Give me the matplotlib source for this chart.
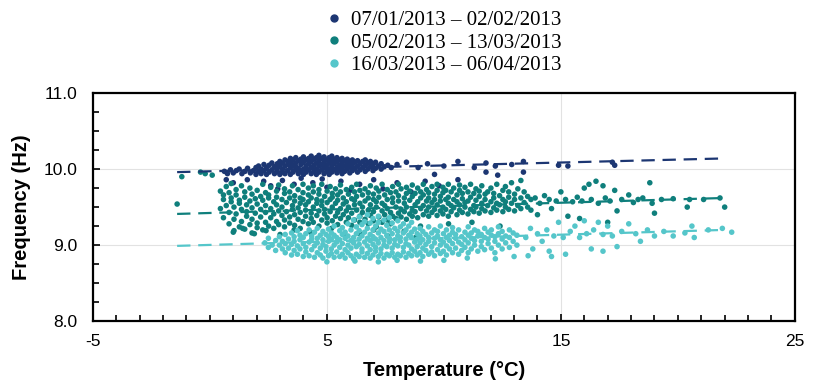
import matplotlib
matplotlib.use('Agg')
import numpy as np
from matplotlib import pyplot as plt
from matplotlib.lines import Line2D
from matplotlib.ticker import MultipleLocator, FormatStrFormatter

plt.rcParams['axes.unicode_minus'] = False

# legend labels
labels = ['07/01/2013 \u2013 02/02/2013', '05/02/2013 \u2013 13/03/2013', '16/03/2013 \u2013 06/04/2013']
colors = ['#1c3672', '#0f7f7c', '#55c6ca']
x_ticks = [-5, 5, 15, 25]

# ---- periodo 1 (navy) : (temperatura, [frequenze])
navy_cols = [
    (0.62, [9.97]), (0.75, [9.94]), (0.88, [9.99]), (1.0, [9.95]), (1.13, [9.98]), (1.25, [10.0]),
    (1.37, [9.94]), (1.5, [9.97]), (1.61, [10.01]), (1.73, [9.95]), (1.86, [9.98]),
    (1.97, [9.93, 10.02]), (2.08, [9.97, 10.04]), (2.19, [9.94, 10.0]), (2.31, [9.98, 10.06]),
    (2.42, [9.93, 10.02]), (2.53, [9.96, 10.05]), (2.65, [9.99, 10.08]), (2.76, [9.94, 10.03]),
    (2.88, [9.97, 10.01, 10.07]), (2.99, [9.93, 10.05, 10.10]), (3.1, [9.96, 10.0, 10.08]),
    (3.21, [9.94, 10.04, 10.12]), (3.33, [9.98, 10.06, 10.10]), (3.44, [9.93, 10.02, 10.09, 10.14]),
    (3.55, [9.96, 10.05, 10.12]), (3.67, [9.99, 10.03, 10.08, 10.15]), (3.78, [9.94, 10.01, 10.11]),
    (3.89, [9.97, 10.06, 10.13]), (4.0, [9.93, 10.0, 10.09, 10.16]), (4.11, [9.96, 10.04, 10.12]),
    (4.22, [9.99, 10.07, 10.14]), (4.33, [9.94, 10.02, 10.10, 10.17]), (4.44, [9.97, 10.05, 10.13]),
    (4.55, [9.93, 10.0, 10.08, 10.15]), (4.66, [9.96, 10.04, 10.11, 10.18]),
    (4.77, [9.99, 10.06, 10.14]), (4.88, [9.94, 10.02, 10.09, 10.16]), (4.99, [9.97, 10.05, 10.12]),
    (5.1, [9.93, 10.0, 10.08, 10.15]), (5.21, [9.96, 10.04, 10.11, 10.17]),
    (5.32, [9.99, 10.07, 10.13]), (5.43, [9.95, 10.02, 10.10, 10.15]), (5.54, [9.98, 10.05, 10.12]),
    (5.65, [9.94, 10.01, 10.08, 10.14]), (5.76, [9.97, 10.04, 10.11]), (5.87, [10.0, 10.07, 10.13]),
    (5.98, [9.95, 10.03, 10.10]), (6.09, [9.98, 10.06, 10.12]), (6.2, [10.01, 10.09]),
    (6.31, [9.96, 10.04, 10.11]), (6.42, [9.99, 10.07]), (6.53, [10.02, 10.10]),
    (6.64, [9.97, 10.05, 10.12]), (6.75, [10.0, 10.08]), (6.86, [10.03, 10.10]),
    (6.97, [9.98, 10.06]), (7.08, [10.01, 10.09]), (7.2, [10.04]), (7.32, [10.0, 10.07]),
    (7.45, [10.03]), (7.6, [10.05]), (7.75, [10.02]),
]
navy_sparse = [
    (0.7, 9.86), (1.0, 9.82), (1.6, 9.86), (2.3, 9.84), (2.6, 9.78), (2.9, 9.74), (3.1, 9.85),
    (3.6, 9.80), (3.9, 9.88), (4.4, 9.82), (4.8, 9.87), (5.0, 9.76), (5.6, 9.84), (6.0, 9.72),
    (6.4, 9.80), (7.0, 9.86), (7.4, 9.74), (8.0, 9.82), (8.6, 9.70), (9.2, 9.84), (9.8, 9.78),
    (10.6, 9.86), (8.0, 10.06), (8.4, 10.09), (8.9, 10.02), (9.3, 10.07), (9.6, 9.93),
    (10.0, 10.04), (10.6, 10.10), (11.3, 10.02), (11.8, 10.08), (11.8, 9.96), (12.2, 10.04),
    (12.3, 9.92), (12.9, 10.06), (13.4, 9.96), (13.4, 10.10), (14.9, 10.05), (15.3, 10.04),
    (17.2, 10.09), (17.3, 10.05),
]

# ---- periodo 2 (teal)
teal_cols = [
    (0.45, [9.48, 9.71]), (0.58, [9.36, 9.60, 9.66]), (0.70, [9.52, 9.77]), (0.82, [9.28, 9.43, 9.69]),
    (0.91, [9.57, 9.62, 9.81]), (1.03, [9.19, 9.34, 9.50]), (1.12, [9.41, 9.66, 9.73]),
    (1.26, [9.24, 9.55, 9.59]), (1.35, [9.31, 9.47, 9.78]), (1.49, [9.21, 9.63, 9.70]),
    (1.57, [9.38, 9.44, 9.53]), (1.71, [9.27, 9.58, 9.75]), (1.80, [9.16, 9.34, 9.49, 9.67]),
    (1.94, [9.42, 9.61]), (2.02, [9.23, 9.29, 9.54, 9.72]), (2.17, [9.37, 9.47, 9.64]),
    (2.26, [9.20, 9.59, 9.80]), (2.38, [9.30, 9.43, 9.52, 9.69]), (2.51, [9.25, 9.62, 9.66]),
    (2.60, [9.36, 9.48, 9.76]), (2.73, [9.22, 9.41, 9.57]), (2.85, [9.31, 9.53, 9.63, 9.71]),
    (2.94, [9.27, 9.45, 9.79]), (3.08, [9.39, 9.50, 9.60]), (3.19, [9.24, 9.33, 9.68, 9.74]),
    (3.27, [9.44, 9.56]), (3.41, [9.29, 9.37, 9.62, 9.70]), (3.53, [9.47, 9.52, 9.78]),
    (3.62, [9.26, 9.40, 9.58, 9.65]), (3.77, [9.34, 9.49, 9.73]), (3.86, [9.22, 9.43, 9.55, 9.62]),
    (3.98, [9.31, 9.60, 9.69, 9.80]), (4.09, [9.38, 9.46, 9.53]), (4.21, [9.28, 9.57, 9.66, 9.75]),
    (4.33, [9.35, 9.42, 9.62]), (4.42, [9.30, 9.50, 9.70, 9.78]), (4.57, [9.39, 9.55, 9.60]),
    (4.66, [9.25, 9.45, 9.67, 9.73]), (4.78, [9.33, 9.52, 9.58, 9.80]), (4.90, [9.41, 9.47, 9.64]),
    (5.01, [9.29, 9.36, 9.56, 9.71]), (5.14, [9.44, 9.60, 9.77]), (5.23, [9.32, 9.50, 9.63, 9.68]),
    (5.37, [9.38, 9.55, 9.74]), (5.46, [9.27, 9.43, 9.59, 9.66]), (5.58, [9.35, 9.48, 9.70, 9.79]),
    (5.70, [9.40, 9.54, 9.62]), (5.83, [9.30, 9.45, 9.57, 9.73]), (5.92, [9.36, 9.50, 9.67]),
    (6.06, [9.26, 9.42, 9.61, 9.76]), (6.18, [9.33, 9.53, 9.59, 9.70]), (6.27, [9.46, 9.64, 9.80]),
    (6.41, [9.30, 9.38, 9.55, 9.72]), (6.52, [9.43, 9.50, 9.66]), (6.63, [9.34, 9.58, 9.74]),
    (6.77, [9.28, 9.46, 9.62, 9.69]), (6.86, [9.39, 9.53, 9.78]), (6.99, [9.32, 9.44, 9.60, 9.67]),
    (7.11, [9.24, 9.50, 9.57, 9.75]), (7.22, [9.37, 9.63, 9.71]), (7.36, [9.30, 9.45, 9.55, 9.80]),
    (7.47, [9.40, 9.52, 9.66]), (7.58, [9.33, 9.48, 9.60, 9.73]), (7.72, [9.28, 9.43, 9.69]),
    (7.81, [9.38, 9.56, 9.62, 9.77]), (7.95, [9.35, 9.50, 9.70]), (8.06, [9.42, 9.58, 9.65, 9.80]),
    (8.17, [9.37, 9.47, 9.74]), (8.31, [9.44, 9.55, 9.62]), (8.40, [9.34, 9.50, 9.68, 9.76]),
    (8.54, [9.41, 9.59, 9.71]), (8.65, [9.38, 9.46, 9.64, 9.79]), (8.77, [9.44, 9.53, 9.68]),
    (8.88, [9.36, 9.57, 9.75]), (9.01, [9.48, 9.62, 9.70]), (9.12, [9.40, 9.52, 9.66, 9.80]),
    (9.26, [9.45, 9.58, 9.73]), (9.35, [9.38, 9.50, 9.62, 9.69]), (9.49, [9.43, 9.56, 9.77]),
    (9.60, [9.47, 9.60, 9.67]), (9.71, [9.39, 9.53, 9.72, 9.80]), (9.85, [9.45, 9.58, 9.64]),
    (9.96, [9.41, 9.50, 9.69, 9.76]), (10.08, [9.47, 9.60, 9.72]), (10.19, [9.38, 9.55, 9.63, 9.80]),
    (10.31, [9.44, 9.52, 9.70]), (10.42, [9.49, 9.60, 9.75]), (10.56, [9.40, 9.57, 9.66]),
    (10.67, [9.46, 9.53, 9.72, 9.79]), (10.79, [9.43, 9.61, 9.68]), (10.90, [9.50, 9.56, 9.76]),
    (11.03, [9.41, 9.58, 9.70]), (11.14, [9.47, 9.63, 9.80]), (11.28, [9.44, 9.52, 9.68]),
    (11.37, [9.50, 9.59, 9.74]), (11.51, [9.42, 9.64, 9.71]), (11.62, [9.48, 9.55, 9.78]),
    (11.76, [9.45, 9.60, 9.67]), (11.87, [9.52, 9.70]), (12.01, [9.43, 9.57, 9.75]),
    (12.13, [9.49, 9.62, 9.68]), (12.26, [9.46, 9.55, 9.80]), (12.38, [9.53, 9.65]),
    (12.52, [9.44, 9.60, 9.72]), (12.63, [9.50, 9.57, 9.77]), (12.77, [9.47, 9.63, 9.70]),
    (12.89, [9.55, 9.82]), (13.02, [9.45, 9.60, 9.67]), (13.16, [9.52, 9.74]),
    (13.29, [9.48, 9.62, 9.85]), (13.43, [9.56, 9.70]), (13.58, [9.50, 9.64]), (13.72, [9.46, 9.60]),
]
teal_sparse = [
    (-1.4, 9.54), (-1.2, 9.90), (-0.4, 9.96), (-0.2, 9.94), (0.1, 9.92),
    (1.0, 9.17), (1.4, 9.22), (1.9, 9.15), (2.4, 9.19), (3.0, 9.14), (3.6, 9.20), (4.3, 9.17),
    (5.2, 9.22), (5.8, 9.12), (6.4, 9.15), (7.0, 9.20), (7.6, 9.12), (8.3, 9.18), (8.8, 9.10),
    (9.0, 9.25), (10.2, 9.28), (11.2, 9.30), (12.4, 9.25),
    (13.9, 9.62), (14.0, 9.40), (14.1, 9.55), (14.3, 9.65), (14.5, 9.60), (14.6, 9.48),
    (14.8, 9.58), (15.0, 9.70), (15.2, 9.60), (15.3, 9.38), (15.5, 9.57), (15.7, 9.63),
    (15.8, 9.35), (15.9, 9.58), (16.0, 9.75), (16.2, 9.80), (16.3, 9.60), (16.5, 9.84),
    (16.6, 9.55), (16.8, 9.78), (16.9, 9.62), (17.0, 9.30), (17.1, 9.58), (17.3, 9.72),
    (17.4, 9.45), (17.6, 9.60), (17.9, 9.66), (18.1, 9.56), (18.3, 9.60), (18.5, 9.62),
    (18.8, 9.82), (18.9, 9.55), (19.0, 9.42), (19.3, 9.60), (19.8, 9.61), (20.4, 9.50),
    (20.5, 9.60), (21.1, 9.60), (21.8, 9.62), (22.0, 9.50),
]

# ---- periodo 3 (cyan)
cyan_cols = [
    (2.35, [9.03]), (2.5, [8.97, 9.09]), (2.66, [9.0]), (2.81, [8.93, 9.06]), (2.97, [9.0, 9.11]),
    (3.1, [8.95, 9.05]), (3.22, [8.90, 9.02, 9.14]), (3.36, [8.96, 9.08]), (3.49, [8.87, 9.01, 9.16]),
    (3.6, [8.93, 9.05, 9.11]), (3.74, [8.88, 8.99, 9.19]), (3.85, [8.95, 9.07, 9.13]),
    (3.99, [8.85, 9.02, 9.10]), (4.1, [8.91, 8.97, 9.15]), (4.24, [8.86, 9.04, 9.20]),
    (4.35, [8.94, 9.08, 9.12]), (4.47, [8.84, 8.99, 9.17]), (4.59, [8.90, 9.03, 9.09, 9.22]),
    (4.72, [8.87, 8.96, 9.13]), (4.83, [8.83, 9.01, 9.07, 9.18]), (4.96, [8.92, 8.98, 9.14]),
    (5.07, [8.86, 9.05, 9.11, 9.21]), (5.19, [8.89, 8.95, 9.08, 9.16]), (5.31, [8.84, 9.0, 9.13, 9.25]),
    (5.42, [8.91, 9.04, 9.10]), (5.55, [8.85, 8.97, 9.07, 9.19]), (5.66, [8.88, 9.02, 9.14, 9.23]),
    (5.78, [8.83, 8.94, 9.09, 9.17]), (5.9, [8.90, 9.0, 9.12, 9.28]), (6.03, [8.86, 8.96, 9.06, 9.20]),
    (6.14, [8.82, 9.03, 9.10, 9.33]), (6.26, [8.88, 8.98, 9.15, 9.24]),
    (6.38, [8.85, 9.01, 9.08, 9.19, 9.37]), (6.5, [8.91, 8.95, 9.12, 9.27]),
    (6.61, [8.84, 9.04, 9.17, 9.31]), (6.73, [8.89, 8.99, 9.09, 9.22, 9.40]),
    (6.85, [8.83, 8.94, 9.06, 9.14, 9.29]), (6.97, [8.87, 9.01, 9.11, 9.20, 9.35]),
    (7.08, [8.92, 8.97, 9.08, 9.25]), (7.2, [8.85, 9.03, 9.16, 9.30, 9.38]),
    (7.31, [8.89, 8.95, 9.10, 9.21]), (7.44, [8.83, 9.0, 9.06, 9.18, 9.33]),
    (7.56, [8.88, 8.98, 9.13, 9.26]), (7.67, [8.86, 9.04, 9.09, 9.20, 9.36]),
    (7.79, [8.90, 8.96, 9.15, 9.29]), (7.9, [8.84, 9.01, 9.07, 9.22]),
    (8.03, [8.88, 8.99, 9.12, 9.18, 9.32]), (8.14, [8.86, 9.05, 9.10, 9.24]),
    (8.27, [8.91, 8.97, 9.16, 9.28]), (8.38, [8.84, 9.02, 9.08, 9.20]), (8.5, [8.89, 9.0, 9.13, 9.25]),
    (8.62, [8.86, 8.95, 9.10, 9.17, 9.30]), (8.75, [8.92, 9.04, 9.21]), (8.86, [8.87, 8.98, 9.08, 9.15]),
    (8.98, [8.90, 9.03, 9.12, 9.22]), (9.1, [8.85, 8.96, 9.07, 9.18]), (9.23, [8.93, 9.01, 9.14]),
    (9.35, [8.88, 9.05, 9.10, 9.24]), (9.48, [8.91, 8.98, 9.16]), (9.6, [8.86, 9.03, 9.09, 9.20]),
    (9.73, [8.94, 9.12, 9.18]), (9.85, [8.89, 9.0, 9.07, 9.25]), (9.98, [8.92, 9.04, 9.15]),
    (10.11, [8.87, 8.99, 9.10, 9.20]), (10.24, [8.95, 9.06, 9.13]), (10.37, [8.90, 9.02, 9.17, 9.23]),
    (10.5, [8.96, 9.09, 9.14]), (10.63, [8.88, 9.04, 9.20]), (10.76, [8.93, 9.01, 9.11]),
    (10.9, [8.97, 9.07, 9.17]), (11.04, [8.90, 9.03, 9.13, 9.24]), (11.17, [8.95, 9.09, 9.16]),
    (11.31, [9.0, 9.06, 9.20]), (11.45, [8.92, 9.12, 9.18]), (11.6, [8.98, 9.05, 9.14]),
    (11.74, [8.94, 9.10, 9.22]), (11.89, [9.02, 9.08, 9.17]), (12.03, [8.96, 9.13, 9.20]),
    (12.18, [8.90, 9.05, 9.11]), (12.33, [9.0, 9.15, 9.24]), (12.49, [8.95, 9.08, 9.18]),
    (12.64, [9.03, 9.12]), (12.8, [8.97, 9.10, 9.20]), (12.96, [9.05, 9.16]), (13.12, [9.0, 9.13]),
]
cyan_sparse = [
    (5.0, 8.78), (6.2, 8.79), (7.2, 8.78), (8.0, 8.80), (9.0, 8.79), (10.0, 8.80),
    (11.0, 8.83), (12.2, 8.82), (13.0, 8.85),
    (13.5, 9.10), (13.6, 8.86), (13.7, 9.22), (13.8, 8.95), (14.0, 9.15), (14.2, 9.05),
    (14.4, 9.20), (14.5, 8.92), (14.6, 8.85), (14.7, 9.12), (14.9, 9.30), (15.1, 9.10),
    (15.2, 8.88), (15.4, 9.18), (15.6, 9.25), (15.8, 9.10), (16.0, 9.32), (16.1, 9.15),
    (16.3, 8.95), (16.4, 9.20), (16.6, 9.30), (16.8, 9.14), (16.8, 8.92), (17.0, 9.25),
    (17.2, 9.12), (17.4, 8.98), (17.6, 9.18), (17.9, 9.28), (18.2, 9.15), (18.4, 9.05),
    (18.7, 9.20), (19.0, 9.12), (19.4, 9.18), (19.8, 9.12), (20.3, 9.16), (20.6, 9.25),
    (20.7, 9.10), (21.3, 9.20), (21.9, 9.22), (22.3, 9.17),
]

# rette di tendenza (estremi)
trend_x = [-1.4, 22.0]
trend_navy = [9.96, 10.14]
trend_teal = [9.41, 9.62]
trend_cyan = [8.99, 9.20]


def expand(cols, sparse):
    xs, ys = [], []
    for x, yl in cols:
        for y in yl:
            xs.append(x)
            ys.append(y)
    for x, y in sparse:
        xs.append(x)
        ys.append(y)
    return xs, ys


series = [expand(navy_cols, navy_sparse), expand(teal_cols, teal_sparse), expand(cyan_cols, cyan_sparse)]
trends = [trend_navy, trend_teal, trend_cyan]

fig = plt.figure(figsize=(8.22, 3.86), dpi=100)
ax = fig.add_axes([0.113, 0.168, 0.854, 0.591])

for (xs, ys), c in zip(series, colors):
    ax.scatter(xs, ys, s=16, color=c, edgecolors='none', zorder=3)

for ty, c in zip(trends, colors):
    ax.plot(trend_x, ty, color=c, lw=1.6, dashes=(6, 3.5), zorder=4)

ax.set_xlim(-5, 25)
ax.set_ylim(8.0, 11.0)
ax.set_xticks(x_ticks)
ax.xaxis.set_minor_locator(MultipleLocator(1))
ax.yaxis.set_major_locator(MultipleLocator(1))
ax.yaxis.set_minor_locator(MultipleLocator(0.25))
ax.yaxis.set_major_formatter(FormatStrFormatter('%.1f'))
ax.tick_params(which='both', direction='in', width=1.2)
ax.tick_params(which='major', length=5, labelsize=12.5)
ax.tick_params(axis='x', which='major', pad=9)
ax.tick_params(axis='y', which='major', pad=11)
ax.tick_params(which='minor', length=4)
ax.grid(True, which='major', color='#e2e2e2', lw=0.8, zorder=0)
for sp in ax.spines.values():
    sp.set_linewidth(1.6)

ax.set_xlabel('Temperature (\u00b0C)', fontsize=14.5, fontweight='bold', family='Liberation Sans', labelpad=9)
ax.set_ylabel('Frequency (Hz)', fontsize=14.5, fontweight='bold', family='Liberation Sans', labelpad=9)
for lab in ax.get_xticklabels() + ax.get_yticklabels():
    lab.set_family('Liberation Sans')

handles = [Line2D([], [], ls='none', marker='o', ms=5, color=c) for c in colors]
fig.legend(handles, labels, loc='upper center', bbox_to_anchor=(0.537, 1.0), frameon=False,
           prop={'family': 'Liberation Serif', 'size': 15}, handletextpad=0.2,
           labelspacing=0.15, handlelength=1.2, borderaxespad=0.1)

fig.savefig('out.png', dpi=100)
